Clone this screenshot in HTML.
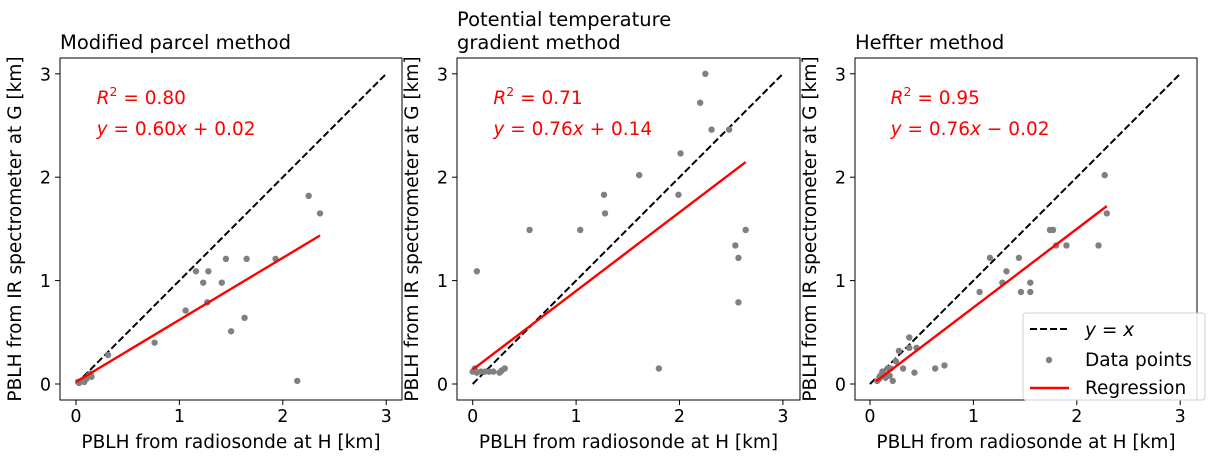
<!DOCTYPE html>
<html><head><meta charset="utf-8"><style>
html,body{margin:0;padding:0;background:#fff;}
svg text{font-family:"DejaVu Sans","Liberation Sans",sans-serif;}
</style></head><body>
<svg id="c" width="1219" height="465" xmlns="http://www.w3.org/2000/svg"></svg>
<script>
const titles1 = ["Modified parcel method"];
const titles2 = ["Potential temperature", "gradient method"];
const titles3 = ["Heffter method"];
const ticks = [0, 1, 2, 3];
const tickLabels = ["0", "1", "2", "3"];
const r2Labels = ["0.80", "0.71", "0.95"];
const eqSlopeLabels = ["0.60", "0.76", "0.76"];
const eqRestLabels = [" + 0.02", " + 0.14", " \u2212 0.02"];
const slopes = [0.60, 0.76, 0.76];
const intercepts = [0.02, 0.14, -0.02];
const regStart = [0.0, 0.0, 0.06];
const regEnd = [2.36, 2.64, 2.29];
const p1x = [0.02,0.03,0.05,0.07,0.10,0.12,0.14,0.15,0.08,0.31,0.76,1.06,1.16,1.23,1.27,1.28,1.41,1.45,1.50,1.63,1.65,1.93,2.14,2.25,2.36];
const p1y = [0.02,0.01,0.03,0.04,0.05,0.08,0.10,0.07,0.02,0.28,0.40,0.71,1.09,0.98,0.79,1.09,0.98,1.21,0.51,0.64,1.21,1.21,0.03,1.82,1.65];
const p2x = [0.04,0.55,1.04,1.27,1.28,1.61,1.80,1.99,2.01,2.20,2.25,2.31,2.48,2.54,2.57,2.57,2.64,0.00,0.02,0.04,0.08,0.12,0.16,0.20,0.26,0.28,0.31];
const p2y = [1.09,1.49,1.49,1.83,1.65,2.02,0.15,1.83,2.23,2.72,3.00,2.46,2.46,1.34,1.22,0.79,1.49,0.12,0.15,0.11,0.12,0.12,0.12,0.12,0.11,0.13,0.15];
const p3x = [0.28,0.38,0.38,0.45,0.32,0.43,0.63,0.72,1.06,1.16,1.28,1.32,1.44,1.46,1.55,1.55,1.74,1.77,1.80,1.90,2.21,2.27,2.29,0.07,0.09,0.10,0.12,0.13,0.15,0.17,0.19,0.22,0.25,0.20];
const p3y = [0.32,0.45,0.35,0.35,0.15,0.11,0.15,0.18,0.89,1.22,0.98,1.09,1.22,0.89,0.98,0.89,1.49,1.49,1.34,1.34,1.34,2.02,1.65,0.03,0.05,0.08,0.12,0.10,0.06,0.15,0.08,0.03,0.22,0.15];

const NS = "http://www.w3.org/2000/svg";
const svg = document.getElementById("c");
function mk(tag, attrs, parent) {
  const e = document.createElementNS(NS, tag);
  for (const k in attrs) e.setAttribute(k, attrs[k]);
  (parent || svg).appendChild(e);
  return e;
}
function ts(parent, text, attrs) {
  const t = mk("tspan", attrs || {}, parent);
  t.textContent = text;
  return t;
}
const panels = [
  {left: 60, right: 402, x0: 76, titles: titles1, px: p1x, py: p1y},
  {left: 457, right: 800, x0: 472.7, titles: titles2, px: p2x, py: p2y},
  {left: 855, right: 1197, x0: 870, titles: titles3, px: p3x, py: p3y}
];
const axTop = 58, axBottom = 400, yZero = 384, unit = 103.4;
panels.forEach((p, i) => {
  const g = mk("g", {});
  
  
  const X = v => p.x0 + v * unit;
  const Y = v => yZero - v * unit;
  p.titles.forEach((t, j) => {
    const tt = mk("text", {x: p.left, y: 49 - (p.titles.length - 1 - j) * 23, "font-size": 19.5, fill: "#000"}, g);
    tt.textContent = t;
    
    
  });
  ticks.forEach((t, j) => {
    mk("line", {x1: X(t), x2: X(t), y1: axBottom, y2: axBottom + 5, stroke: "#000", "stroke-width": 1}, g);
    const xl = mk("text", {x: X(t), y: axBottom + 22, "font-size": 17.5, "text-anchor": "middle"}, g);
    xl.textContent = tickLabels[j];
    
    
    mk("line", {x1: p.left - 5, x2: p.left, y1: Y(t), y2: Y(t), stroke: "#000", "stroke-width": 1}, g);
    const yl = mk("text", {x: p.left - 9, y: Y(t) + 6.5, "font-size": 17.5, "text-anchor": "end"}, g);
    yl.textContent = tickLabels[j];
    
    
  });
  const xt = mk("text", {x: (p.left + p.right) / 2, y: 448, "font-size": 18.5, "text-anchor": "middle"}, g);
  xt.textContent = "PBLH from radiosonde at H [km]";
  
  
  const ycx = p.left - 39, ycy = (axTop + axBottom) / 2;
  const yt = mk("text", {x: ycx, y: ycy, "font-size": 18.5, "text-anchor": "middle", transform: "rotate(-90 " + ycx + " " + ycy + ")"}, g);
  yt.textContent = "PBLH from IR spectrometer at G [km]";
  
  
  const idl = mk("line", {x1: X(0), y1: Y(0), x2: X(3), y2: Y(3), stroke: "#000", "stroke-width": 2, "stroke-dasharray": "7,3"}, g);
  
  
  p.px.forEach((v, k) => {
    const c = mk("circle", {cx: X(v), cy: Y(p.py[k]), r: 3.2, fill: "#808080"}, g);
    
    
  });
  const a = regStart[i], b = regEnd[i];
  const rl = mk("line", {x1: X(a), y1: Y(slopes[i] * a + intercepts[i]), x2: X(b), y2: Y(slopes[i] * b + intercepts[i]), stroke: "#ff0000", "stroke-width": 2.4}, g);
  
  
  const ax = X(0.2);
  const r = mk("text", {x: ax, y: 104, "font-size": 18.5, fill: "#ff0000"}, g);
  ts(r, "R", {"font-style": "italic"});
  ts(r, "2", {dy: -8, "font-size": 12.5});
  ts(r, " = " + r2Labels[i], {dy: 8});
  
  
  const e = mk("text", {x: ax, y: 135, "font-size": 18.5, fill: "#ff0000"}, g);
  ts(e, "y", {"font-style": "italic"});
  ts(e, " = " + eqSlopeLabels[i]);
  ts(e, "x", {"font-style": "italic"});
  ts(e, eqRestLabels[i]);
  
  
  const f = mk("rect", {x: p.left, y: axTop, width: p.right - p.left, height: axBottom - axTop, fill: "none", stroke: "#000", "stroke-width": 1}, g);
  
  
});
const lg = mk("g", {});


mk("rect", {x: 1023, y: 313, width: 182, height: 87, rx: 3, fill: "#fff", "fill-opacity": 0.85, stroke: "#d0d0d0"}, lg);
mk("line", {x1: 1030, x2: 1069, y1: 329, y2: 329, stroke: "#000", "stroke-width": 2, "stroke-dasharray": "7,3"}, lg);
const l1 = mk("text", {x: 1085, y: 336, "font-size": 18.5}, lg);
ts(l1, "y", {"font-style": "italic"});
ts(l1, " = ");
ts(l1, "x", {"font-style": "italic"});


mk("circle", {cx: 1049, cy: 360, r: 3.2, fill: "#808080"}, lg);
const l2 = mk("text", {x: 1085, y: 366, "font-size": 18.5}, lg);
l2.textContent = "Data points";


mk("line", {x1: 1030, x2: 1069, y1: 388, y2: 388, stroke: "#ff0000", "stroke-width": 2.4}, lg);
const l3 = mk("text", {x: 1085, y: 394, "font-size": 18.5}, lg);
l3.textContent = "Regression";


</script>
</body></html>
